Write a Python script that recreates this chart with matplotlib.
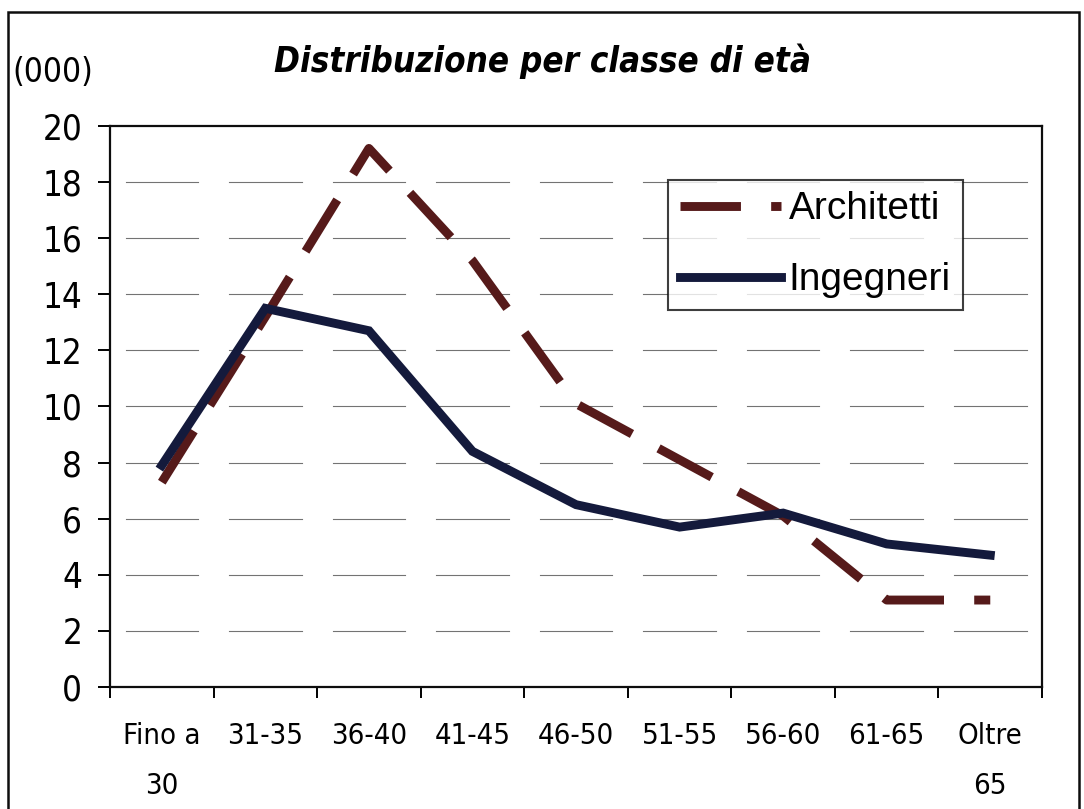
"""Distribuzione per classe di età: architetti vs ingegneri (migliaia)."""

import matplotlib

matplotlib.use("Agg")
import matplotlib.pyplot as plt
from matplotlib.patches import Rectangle
import numpy as np

# --- data ---------------------------------------------------------------
classi = ["Fino a\n30", "31-35", "36-40", "41-45", "46-50",
          "51-55", "56-60", "61-65", "Oltre\n65"]
architetti = [7.3, 13.2, 19.2, 15.2, 10.1, 8.1, 6.1, 3.1, 3.1]
ingegneri = [7.9, 13.5, 12.7, 8.4, 6.5, 5.7, 6.2, 5.1, 4.7]
y_ticks = [0, 2, 4, 6, 8, 10, 12, 14, 16, 18, 20]

COND = dict(family="DejaVu Sans", stretch="condensed")


def main() -> None:
    fig = plt.figure(figsize=(10.84, 8.09), dpi=100)
    ax = fig.add_axes([0.1015, 0.1508, 0.8598, 0.6935])

    x = np.arange(len(classi))

    # broken grid lines, one dash per category like the scanned original
    for y in y_ticks[1:-1]:
        for xi in x:
            ax.plot([xi - 0.5 + 0.15, xi + 0.5 - 0.15], [y, y],
                    color="0.45", lw=0.8, zorder=1)

    ax.plot(x, architetti, color="#561a1a", lw=6.4,
            linestyle=(0, (6.8, 3.4)), solid_joinstyle="miter",
            dash_capstyle="butt", label="Architetti", zorder=3)
    ax.plot(x, ingegneri, color="#141a3c", lw=6.4,
            solid_joinstyle="miter", label="Ingegneri", zorder=4)

    ax.set_xlim(-0.5, len(classi) - 0.5)
    ax.set_ylim(0, 20)
    ax.set_yticks(y_ticks)
    ax.set_yticklabels([str(v) for v in y_ticks], fontsize=25, **COND)
    ax.tick_params(axis="y", direction="out", length=9, width=1.4, pad=11)

    ax.set_xticks(x)
    ax.set_xticklabels(classi, fontsize=21, linespacing=2.0, **COND)
    ax.set_xticks(np.arange(len(classi) + 1) - 0.5, minor=True)
    ax.tick_params(axis="x", which="major", length=0, pad=25)
    ax.tick_params(axis="x", which="minor", direction="out", length=8, width=1.4)

    for side in ("left", "right", "top", "bottom"):
        ax.spines[side].set_linewidth(1.6)
        ax.spines[side].set_color("0.05")

    leg = ax.legend(loc="upper left", bbox_to_anchor=(0.599, 0.904),
                    borderaxespad=0, fancybox=False, frameon=True,
                    handlelength=2.6, handletextpad=0.2, borderpad=0.3,
                    labelspacing=0.9,
                    prop=dict(family=["Liberation Sans Narrow", "Liberation Sans"], size=28))
    leg.get_frame().set_edgecolor("0.05")
    leg.get_frame().set_linewidth(1.5)

    fig.text(0.5, 0.911, "Distribuzione per classe di età", ha="center",
             va="baseline", fontsize=25, fontweight="bold", fontstyle="oblique",
             **COND)
    fig.text(0.011, 0.899, "(000)", ha="left", va="baseline", fontsize=24, **COND)

    # outer chart frame
    fig.add_artist(Rectangle((0.0074, -0.02), 0.9878, 1.005, transform=fig.transFigure,
                             fill=False, edgecolor="0.05", lw=1.8))

    fig.savefig("out.png", dpi=100)
    plt.close(fig)


if __name__ == "__main__":
    main()
